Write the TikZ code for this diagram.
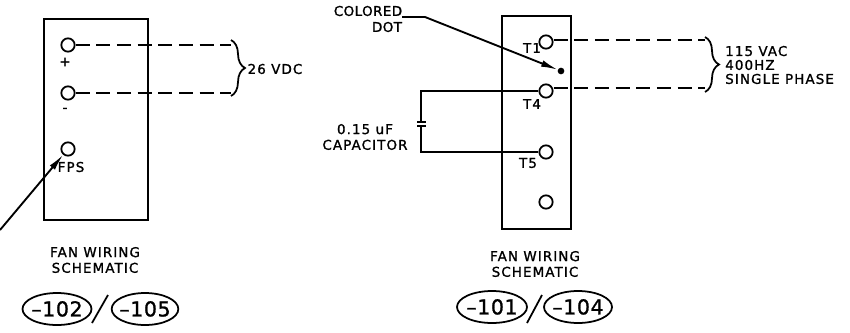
\documentclass[tikz,border=0pt]{standalone}
\usepackage{fontspec}
\setmainfont{DejaVu Sans}
\newfontfamily\cadfont[LetterSpace=8,FakeBold=1.2]{DejaVu Sans}
\newfontfamily\cadtight[LetterSpace=3,FakeBold=1.2]{DejaVu Sans}
\newcommand{\tagnum}[1]{\smash{\raisebox{-0.36em}{\makebox[0pt]{#1}}}}
\usetikzlibrary{arrows.meta,shapes.geometric,decorations.pathreplacing}

\begin{document}
\begin{tikzpicture}[x=0.03cm,y=-0.03cm]
\tikzstyle{wire}=[line width=1.5pt]
\tikzstyle{run}=[line width=1.5pt,dash pattern=on 0.42cm off 0.2cm]
\tikzstyle{lead}=[-{Latex[length=0.5cm,width=0.2cm]},line width=1.6pt]
\tikzstyle{term}=[circle,draw,line width=1.5pt,inner sep=0pt,minimum size=0.4cm]
\tikzstyle{txt}=[inner sep=0pt,align=center,font=\cadfont\fontsize{11.5}{13.4}\selectfont]
\tikzstyle{tag}=[ellipse,draw,line width=1.5pt,inner sep=0pt,minimum height=0.96cm,font=\cadtight\fontsize{17.5}{20}\selectfont]
\tikzstyle{curly}=[line width=1.5pt,decorate,decoration={brace,amplitude=0.42cm,aspect=0.5}]
\useasboundingbox (0,0) rectangle (850,332);

% left fan
\node (1) at (96,119.5) [rectangle,draw,line width=1.5pt,minimum width=3.12cm,minimum height=6.03cm]{};
\node (2) at (68,45) [term]{};
\node (3) at (68,93) [term]{};
\node (4) at (68,149) [term]{};
\node (5) at (65,62) [txt]{+};
\node (6) at (65,110) [txt]{-};
\node (7) at (71,167) [txt]{FPS};
\node (8) at (275,69) [txt]{26 VDC};
\node (9) at (95,260) [txt]{FAN WIRING\\SCHEMATIC};
\node (10) at (57,309) [tag,minimum width=2.07cm]{\tagnum{–102}};
\node (11) at (145,309) [tag,minimum width=2cm]{\tagnum{–105}};
\coordinate (12) at (231,45);
\coordinate (13) at (231,93);
\coordinate (14) at (0,230);
\coordinate (15) at (92,323);
\coordinate (16) at (108,295);

% right fan
\node (17) at (536.5,122.5) [rectangle,draw,line width=1.5pt,minimum width=2.07cm,minimum height=6.39cm]{};
\node (18) at (546,42) [term]{};
\node (19) at (546,91) [term]{};
\node (20) at (546,152) [term]{};
\node (21) at (546,202) [term]{};
\node (22) at (532,48) [txt]{T1};
\node (23) at (532,104) [txt]{T4};
\node (24) at (528,163) [txt]{T5};
\node (25) at (561,71) [circle,fill,inner sep=0pt,minimum size=0.2cm]{};
\node (26) at (368,11) [txt,font=\cadtight\fontsize{11.5}{13.4}\selectfont]{COLORED};
\node (27) at (387,27) [txt,font=\cadtight\fontsize{11.5}{13.4}\selectfont]{DOT};
\node (28) at (365,137) [txt]{0.15 uF\\CAPACITOR};
\node (29) at (725,65) [txt,anchor=west,align=left,font=\cadfont\fontsize{11.5}{11.9}\selectfont]{115 VAC\\400HZ\\SINGLE PHASE};
\node (30) at (535,264) [txt]{FAN WIRING\\SCHEMATIC};
\node (31) at (492,307) [tag,minimum width=2.1cm]{\tagnum{–101}};
\node (32) at (578,307) [tag,minimum width=2.04cm]{\tagnum{–104}};
\coordinate (33) at (402,17);
\coordinate (34) at (425,17);
\coordinate (35) at (705,40);
\coordinate (36) at (705,88);
\coordinate (37) at (421,92);
\coordinate (38) at (421,122);
\coordinate (39) at (421,126);
\coordinate (40) at (421,152);
\coordinate (41) at (417,122);
\coordinate (42) at (426,122);
\coordinate (43) at (417,126);
\coordinate (44) at (426,126);
\coordinate (45) at (527,323);
\coordinate (46) at (542,295);
\coordinate (47) at (231,40);
\coordinate (48) at (231,96);
\coordinate (49) at (705,37);
\coordinate (50) at (705,92);

\draw[run] (2) -- (12); \draw[run] (3) -- (13);
\draw[lead] (14) -- (4);
\draw[wire] (15) -- (16);
\draw[curly] (47) -- (48);

\draw[lead] (33) -- (34) -- (25);
\draw[run] (18.east |- 35) -- (35); \draw[run] (19.east |- 36) -- (36);
\draw[wire] (19) -- (19 -| 37) -- (38);
\draw[wire] (20) -- (20 -| 40) -- (39);
\draw[wire] (41) -- (42); \draw[wire] (43) -- (44);
\draw[wire] (45) -- (46);
\draw[curly] (49) -- (50);
\end{tikzpicture}
\end{document}
